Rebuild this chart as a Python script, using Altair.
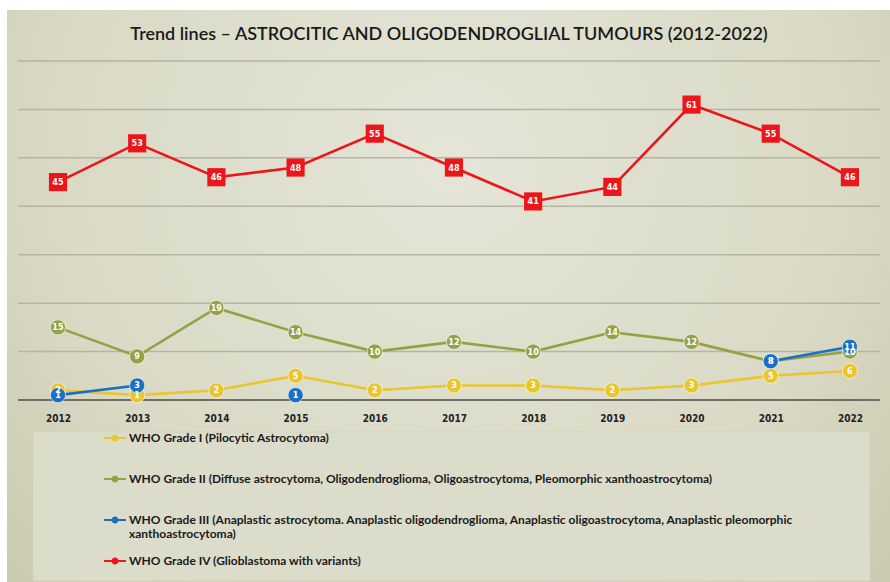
import altair as alt
import pandas as pd

years = [2012, 2013, 2014, 2015, 2016, 2017, 2018, 2019, 2020, 2021, 2022]
series_names = [
    "WHO Grade I (Pilocytic Astrocytoma)",
    "WHO Grade II (Diffuse astrocytoma, Oligodendroglioma, Oligoastrocytoma, Pleomorphic xanthoastrocytoma)",
    "WHO Grade III (Anaplastic astrocytoma. Anaplastic oligodendroglioma, Anaplastic oligoastrocytoma, Anaplastic pleomorphic xanthoastrocytoma)",
    "WHO Grade IV (Glioblastoma with variants)",
]
grade1 = [2, 1, 2, 5, 2, 3, 3, 2, 3, 5, 6]
grade2 = [15, 9, 19, 14, 10, 12, 10, 14, 12, 8, 10]
grade3 = [1, 3, None, 1, None, None, None, None, None, 8, 11]
grade4 = [45, 53, 46, 48, 55, 48, 41, 44, 61, 55, 46]
grid_values = [0, 10, 20, 30, 40, 50, 60, 70]
colors = ["#e8c62c", "#93a244", "#1b6fc6", "#ec1519"]

rows = []
for name, vals in zip(series_names, [grade1, grade2, grade3, grade4]):
    for y, v in zip(years, vals):
        rows.append({"year": y, "series": name, "value": v})
df = pd.DataFrame(rows)
grid_df = pd.DataFrame({"value": grid_values})

title_text = "Trend lines \u2013  ASTROCITIC AND OLIGODENDROGLIAL TUMOURS (2012-2022)"

split_at = series_names[2].index(" xanthoastrocytoma)")
label_expr = (
    f"length(datum.label) > 120 ? [substring(datum.label, 0, {split_at}), "
    f"substring(datum.label, {split_at + 1})] : datum.label"
)

W, H = 862, 339
LEFT, TOP = 18, 61

color_scale = alt.Scale(domain=series_names, range=colors)
x_enc = alt.X(
    "year:Q",
    scale=alt.Scale(domain=[2011.495, 2022.38], nice=False, zero=False),
    axis=alt.Axis(
        values=years, format="d", title=None, grid=False, ticks=False, domain=False,
        labelFont="DejaVu Sans Condensed", labelFontWeight="bold", labelFontSize=10,
        labelColor="#222222", labelPadding=13, zindex=1,
    ),
)
y_enc = alt.Y("value:Q", scale=alt.Scale(domain=[0, 70], nice=False), axis=None)

base = alt.Chart(df)
valid = "isValid(datum.value)"
is_iv = f"datum.series == '{series_names[3]}'"
deco = alt.InlineData(values=[{"a": 1}])

backdrop = alt.Chart(deco).mark_rect(
    fill=alt.Gradient(
        gradient="radial",
        stops=[
            alt.GradientStop(color="#e5e5d8", offset=0),
            alt.GradientStop(color="#d9d9c5", offset=0.6),
            alt.GradientStop(color="#c6c6aa", offset=1),
        ],
        x1=0.5, y1=0.35, r1=0, x2=0.5, y2=0.35, r2=0.75,
    )
).encode(x=alt.value(-11), x2=alt.value(872), y=alt.value(-51), y2=alt.value(521))

gridlines = alt.Chart(grid_df).mark_rule().encode(
    y=y_enc,
    stroke=alt.condition("datum.value == 0", alt.value("#6e6e66"), alt.value("#b5b5a4")),
    strokeWidth=alt.condition("datum.value == 0", alt.value(2), alt.value(1.5)),
)

legend_box = alt.Chart(deco).mark_rect(
    fill="#dcdccb", stroke="#d2d2be"
).encode(x=alt.value(15), x2=alt.value(852), y=alt.value(371), y2=alt.value(520))

lines = base.mark_line(strokeWidth=2.6, invalid="break-paths-show-domains").encode(
    x=x_enc, y=y_enc,
    color=alt.Color("series:N", scale=color_scale, legend=None),
    detail="series:N",
)

circles = base.transform_filter(f"{valid} && !({is_iv})").mark_circle(
    opacity=1, size=230, stroke="white", strokeWidth=0.6
).encode(
    x=x_enc, y=y_enc,
    color=alt.Color(
        "series:N", scale=color_scale,
        legend=alt.Legend(
            title=None, orient="none", legendX=86, legendY=366, direction="vertical",
            symbolType="M-1,-0.1L1,-0.1L1,0.1L-1,0.1Z M0.32,0A0.32,0.32,0,1,1,-0.32,0A0.32,0.32,0,1,1,0.32,0Z",
            symbolSize=484, symbolStrokeWidth=0, symbolOpacity=1,
            labelFont="Lato", labelFontWeight="bold", labelFontSize=12, labelColor="#1a1a1a",
            labelLimit=900, labelOffset=3, rowPadding=10, gridAlign="all",
            labelExpr=label_expr, zindex=1,
        ),
    ),
)

squares = base.transform_filter(f"{valid} && {is_iv}").mark_square(
    opacity=1, size=330
).encode(
    x=x_enc, y=y_enc,
    color=alt.Color("series:N", scale=color_scale, legend=None),
)

labels = base.transform_filter(valid).mark_text(
    color="white", fontSize=9, fontWeight="bold", font="DejaVu Sans Condensed",
    align="center", baseline="middle",
).encode(x=x_enc, y=y_enc, text="value:Q")

chart = alt.layer(backdrop, gridlines, legend_box, lines, circles, squares, labels).resolve_legend(
    color="independent"
).properties(
    width=W, height=H,
    title=alt.TitleParams(
        title_text, font="Lato", fontSize=18, fontWeight=600, color="#1a1a1a",
        anchor="middle", offset=-34, zindex=1, frame="group",
    ),
    background="#ffffff",
    padding={"left": LEFT, "top": TOP, "right": 890 - LEFT - W, "bottom": 582 - TOP - H},
    autosize=alt.AutoSizeParams(type="none"),
).configure_view(stroke=None)

chart.save("out.html", embed_options={"renderer": "svg", "actions": False})
